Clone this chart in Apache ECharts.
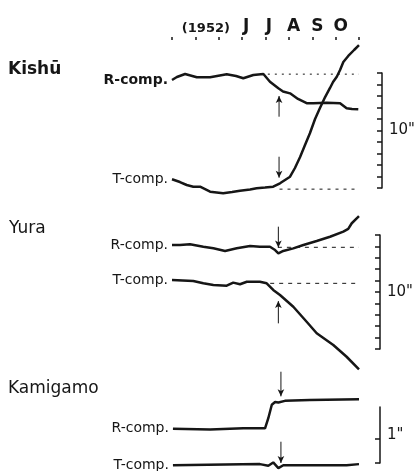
<!DOCTYPE html>
<html>
<head>
<meta charset="utf-8">
<script src="https://cdn.jsdelivr.net/npm/echarts@6/dist/echarts.min.js"></script>
<style>
  html, body { margin: 0; padding: 0; background: #fff; }
  #chart { width: 418px; height: 471px; }
</style>
</head>
<body>
<div id="chart"></div>
<script>
// time axis: 0..8 tick steps, top labels
var tickLabels = ['(1952)', 'J', 'J', 'A', 'S', 'O'];
var tickLabelAt = [1.45, 3.17, 4.15, 5.2, 6.22, 7.22];

// Kishū (seconds of arc)
var kishuR = [[0, 9.39], [0.21, 9.65], [0.56, 9.91], [1.06, 9.63], [1.63, 9.63], [2.34, 9.89], [2.74, 9.74],
  [3.05, 9.54], [3.48, 9.83], [3.91, 9.91], [4.19, 9.24], [4.55, 8.67], [4.75, 8.39], [5.05, 8.23],
  [5.39, 7.74], [5.76, 7.37], [6.04, 7.37], [6.62, 7.42], [7.19, 7.37], [7.47, 6.93], [7.7, 6.87], [7.97, 6.84]];
var kishuT = [[0, 0.76], [0.34, 0.52], [0.63, 0.26], [0.91, 0.11], [1.2, 0.11], [1.63, -0.32], [2.19, -0.46],
  [2.57, -0.35], [2.91, -0.23], [3.34, -0.13], [3.62, -0.03], [3.98, 0.04], [4.33, 0.11], [4.62, 0.41],
  [5.05, 0.98], [5.26, 1.74], [5.48, 2.7], [5.69, 3.74], [5.9, 4.76], [6.12, 6.0], [6.33, 6.96], [6.55, 7.91],
  [6.76, 8.7], [6.89, 9.22], [7.05, 9.68], [7.19, 10.26], [7.33, 10.96], [7.54, 11.48], [7.79, 12.0], [8.0, 12.43]];
var kishuRLevel = [[4.1, 9.9], [8, 9.9]];
var kishuTLevel = [[4.6, -0.1], [8, -0.1]];
// [from, to] pairs of each small arrow
var kishuArrows = [[[4.58, 6.2], [4.58, 8.0]], [[4.58, 2.72], [4.58, 0.9]]];

// Yura
var yuraR = [[0, 9.12], [0.34, 9.12], [0.77, 9.18], [1.34, 8.97], [1.77, 8.83], [2.27, 8.6], [2.77, 8.83],
  [3.34, 9.04], [3.76, 8.97], [4.19, 8.97], [4.41, 8.68], [4.55, 8.39], [4.76, 8.6], [5.19, 8.83],
  [5.62, 9.12], [6.19, 9.47], [6.76, 9.85], [7.33, 10.29], [7.54, 10.53], [7.69, 11.03], [8.0, 11.65]];
var yuraT = [[0, 6.05], [0.91, 5.96], [1.34, 5.76], [1.77, 5.61], [2.34, 5.55], [2.62, 5.82], [2.91, 5.68],
  [3.2, 5.9], [3.76, 5.9], [4.05, 5.76], [4.33, 5.18], [4.62, 4.74], [5.19, 3.71], [5.76, 2.39],
  [6.19, 1.38], [6.9, 0.35], [7.47, -0.68], [8.0, -1.78]];
var yuraRLevel = [[4.53, 8.92], [8, 8.92]];
var yuraTLevel = [[4.2, 5.76], [8, 5.76]];
var yuraArrows = [[[4.55, 10.73], [4.55, 8.9]], [[4.55, 2.25], [4.55, 4.2]]];

// Kamigamo
var kamiR = [[0.04, 0.61], [1.63, 0.6], [3.05, 0.62], [3.98, 0.62], [4.12, 0.8], [4.27, 1.04], [4.41, 1.09],
  [4.55, 1.08], [4.83, 1.11], [5.9, 1.125], [8.0, 1.14]];
var kamiT = [[0.04, -0.04], [3.76, -0.02], [4.12, -0.05], [4.33, 0.01], [4.55, -0.09], [4.76, -0.04],
  [5.9, -0.04], [7.47, -0.04], [8.0, -0.02]];
var kamiArrows = [[[4.66, 1.63], [4.66, 1.19]], [[4.66, 0.38], [4.66, 0.0]]];

var ink = '#161616';
var font = 'DejaVu Sans';

function withLabel(data) {
  // first point carries the component name
  return data.map(function (p, i) {
    return i === 0 ? { value: p, label: { show: true } } : p;
  });
}

function trace(name, idx, data, bold) {
  return {
    type: 'line',
    name: name,
    xAxisIndex: idx,
    yAxisIndex: idx,
    data: withLabel(data),
    clip: false,
    smooth: false,
    symbol: 'circle',
    symbolSize: 0,
    showSymbol: true,
    lineStyle: { color: ink, width: 2.5 },
    itemStyle: { color: ink },
    label: {
      show: false,
      position: 'left',
      distance: 4,
      formatter: '{a}',
      color: ink,
      fontFamily: font,
      fontSize: 14,
      fontWeight: bold ? 'bold' : 'normal'
    },
    animation: false
  };
}

// one small series per arrow, head on the second point
function arrows(idx, list) {
  return list.map(function (a) {
    var up = a[1][1] > a[0][1];
    return {
      type: 'line',
      xAxisIndex: idx,
      yAxisIndex: idx,
      clip: false,
      silent: true,
      showSymbol: true,
      lineStyle: { color: ink, width: 1 },
      itemStyle: { color: ink },
      data: [
        { value: a[0], symbol: 'none' },
        { value: a[1], symbol: 'arrow', symbolSize: [5, 7], symbolRotate: up ? 0 : 180 }
      ],
      animation: false
    };
  });
}

function level(idx, data, dash) {
  return {
    type: 'line',
    xAxisIndex: idx,
    yAxisIndex: idx,
    data: data,
    clip: false,
    symbol: 'none',
    silent: true,
    lineStyle: { color: ink, width: 1, type: dash },
    animation: false
  };
}

function hiddenX(idx) {
  return { gridIndex: idx, type: 'value', min: 0, max: 8, show: false, axisLine: { onZero: false } };
}

function scaleY(idx, max, offset, name, ticks) {
  var ax = {
    gridIndex: idx,
    type: 'value',
    position: 'right',
    offset: offset,
    min: 0,
    max: max,
    interval: 1,
    name: name,
    nameLocation: 'middle',
    nameRotate: 0,
    nameGap: 7,
    nameTextStyle: { color: ink, fontFamily: font, fontSize: 15, align: 'left' },
    axisLine: { show: true, onZero: false, lineStyle: { color: ink, width: 1.5 } },
    axisTick: { show: true, inside: true, length: 5, lineStyle: { color: ink, width: 1.5 } },
    axisLabel: { show: false },
    splitLine: { show: false }
  };
  if (ticks) ax.axisTick.customValues = ticks;
  return ax;
}

var series = [
  trace('R-comp.', 0, kishuR, true),
  trace('T-comp.', 0, kishuT, false),
  level(0, kishuRLevel, [2, 5]),
  level(0, kishuTLevel, [3, 5]),
  trace('R-comp.', 1, yuraR, false),
  trace('T-comp.', 1, yuraT, false),
  level(1, yuraRLevel, [4, 5]),
  level(1, yuraTLevel, [4, 5]),
  trace('R-comp.', 2, kamiR, false),
  trace('T-comp.', 2, kamiT, false)
].concat(arrows(0, kishuArrows), arrows(1, yuraArrows), arrows(2, kamiArrows));

var chart = echarts.init(document.getElementById('chart'));
chart.setOption({
  backgroundColor: '#fff',
  graphic: [
    { type: 'text', left: 8, top: 61, style: { text: 'Kishū', font: 'bold 17px ' + font, fill: ink } },
    { type: 'text', left: 9, top: 220, style: { text: 'Yura', font: '17px ' + font, fill: ink } },
    { type: 'text', left: 8, top: 380, style: { text: 'Kamigamo', font: '17px ' + font, fill: ink } }
  ],
  grid: [
    { left: 172, width: 187, top: 73, height: 115 },
    { left: 172, width: 187, top: 235, height: 114 },
    { left: 172, width: 187, top: 407, height: 56 }
  ],
  xAxis: [
    {
      gridIndex: 0,
      type: 'value',
      position: 'top',
      offset: 33,
      min: 0,
      max: 8,
      interval: 1,
      axisLine: { show: false, onZero: false },
      axisTick: { show: true, length: 3, lineStyle: { color: ink, width: 1.5 } },
      splitLine: { show: false },
      axisLabel: {
        customValues: tickLabelAt,
        margin: 5,
        color: ink,
        fontFamily: font,
        fontSize: 17,
        fontWeight: 'bold',
        formatter: function (v) {
          for (var i = 0; i < tickLabelAt.length; i++) {
            if (Math.abs(tickLabelAt[i] - v) < 1e-6) {
              return i === 0 ? '{yr|' + tickLabels[i] + '}' : tickLabels[i];
            }
          }
          return '';
        },
        rich: { yr: { fontSize: 13, fontWeight: 'bold', fontFamily: font, color: ink } }
      }
    },
    hiddenX(1),
    hiddenX(2)
  ],
  yAxis: [
    scaleY(0, 10, 23, '10"'),
    scaleY(1, 10, 21, '10"'),
    scaleY(2, 1, 21, '1"', [0, 0.43])
  ],
  series: series
});
</script>
</body>
</html>
